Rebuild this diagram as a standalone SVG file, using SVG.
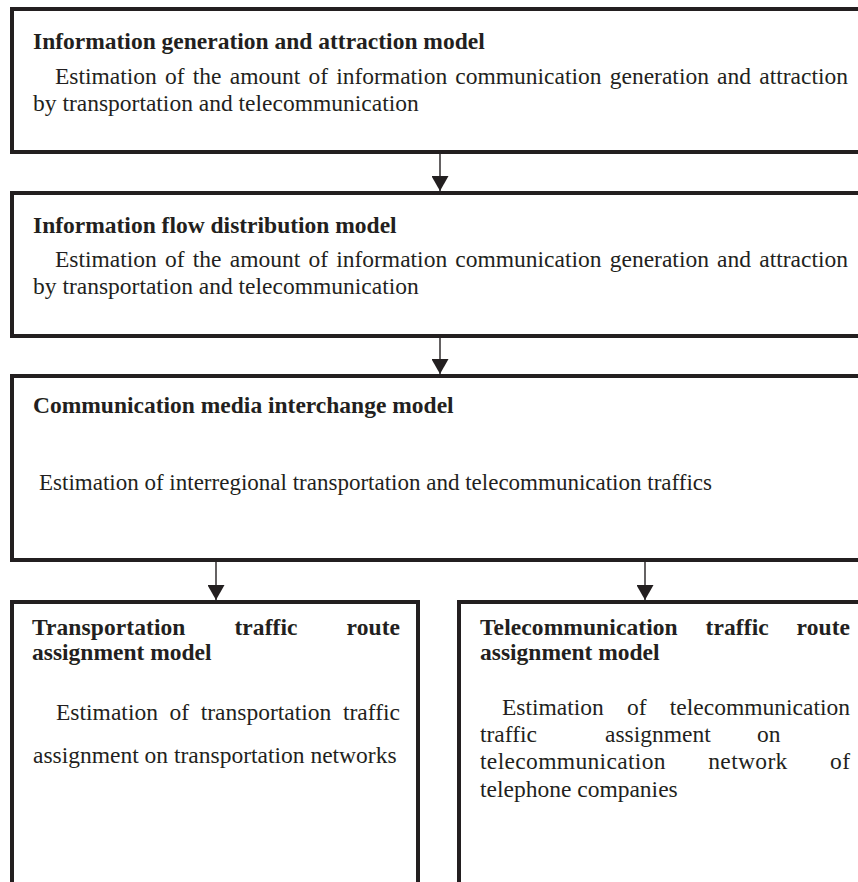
<svg xmlns="http://www.w3.org/2000/svg" width="858" height="882" viewBox="0 0 858 882">
  <style>
    .box { fill: #ffffff; stroke: #231f20; stroke-width: 4; }
    .link { stroke: #231f20; stroke-width: 1.4; fill: none; }
    text { font-family: "Liberation Serif", "Times New Roman", serif; font-size: 23.5px; fill: #231f20; }
    .title { font-weight: bold; }
  </style>
  <defs>
    <marker id="arrow" markerUnits="userSpaceOnUse" viewBox="0 0 15 17" refX="15" refY="8.5" markerWidth="15" markerHeight="17" orient="auto">
      <path d="M0,0 L15,8.5 L0,17 Z" fill="#231f20"/>
    </marker>
  </defs>
  <rect width="858" height="882" fill="#ffffff"/>

  <!-- connectors -->
  <g id="connectors">
    <line class="link" x1="440" y1="154" x2="440" y2="191" marker-end="url(#arrow)"/>
    <line class="link" x1="440" y1="338" x2="440" y2="374" marker-end="url(#arrow)"/>
    <line class="link" x1="216" y1="562" x2="216" y2="600" marker-end="url(#arrow)"/>
    <line class="link" x1="645" y1="562" x2="645" y2="600" marker-end="url(#arrow)"/>
  </g>

  <!-- stage 1 -->
  <g id="generation-attraction">
    <rect class="box" x="12" y="9" width="870" height="143"/>
    <text class="title" x="33" y="49">Information generation and attraction model</text>
    <text x="55" y="84" word-spacing="2.3" textLength="793" lengthAdjust="spacing">Estimation of the amount of information communication generation and attraction</text>
    <text x="33" y="111">by transportation and telecommunication</text>
  </g>

  <!-- stage 2 -->
  <g id="flow-distribution">
    <rect class="box" x="12" y="193" width="870" height="143"/>
    <text class="title" x="33" y="233">Information flow distribution model</text>
    <text x="55" y="267" word-spacing="2.3" textLength="793" lengthAdjust="spacing">Estimation of the amount of information communication generation and attraction</text>
    <text x="33" y="294">by transportation and telecommunication</text>
  </g>

  <!-- stage 3 -->
  <g id="media-interchange">
    <rect class="box" x="12" y="376" width="870" height="184"/>
    <text class="title" x="33" y="413">Communication media interchange model</text>
    <text x="39" y="490" textLength="673" lengthAdjust="spacingAndGlyphs">Estimation of interregional transportation and telecommunication traffics</text>
  </g>

  <!-- stage 4a -->
  <g id="transport-assignment">
    <rect class="box" x="12" y="602" width="406" height="300"/>
    <text class="title" x="32" y="635" word-spacing="43" textLength="368" lengthAdjust="spacing">Transportation traffic route</text>
    <text class="title" x="32" y="660">assignment model</text>
    <text x="56" y="720" word-spacing="5.7" textLength="344" lengthAdjust="spacing">Estimation of transportation traffic</text>
    <text x="33" y="763">assignment on transportation networks</text>
  </g>

  <!-- stage 4b -->
  <g id="telecom-assignment">
    <rect class="box" x="459" y="602" width="420" height="300"/>
    <text class="title" x="480" y="635" word-spacing="21.8" textLength="370" lengthAdjust="spacing">Telecommunication traffic route</text>
    <text class="title" x="480" y="660">assignment model</text>
    <text x="502" y="715" word-spacing="17.3" textLength="348" lengthAdjust="spacing">Estimation of telecommunication</text>
    <text y="742"><tspan x="480">traffic</tspan><tspan x="605">assignment</tspan><tspan x="757">on</tspan></text>
    <text x="480" y="769" word-spacing="36.2" textLength="370" lengthAdjust="spacing">telecommunication network of</text>
    <text x="480" y="797">telephone companies</text>
  </g>
</svg>
